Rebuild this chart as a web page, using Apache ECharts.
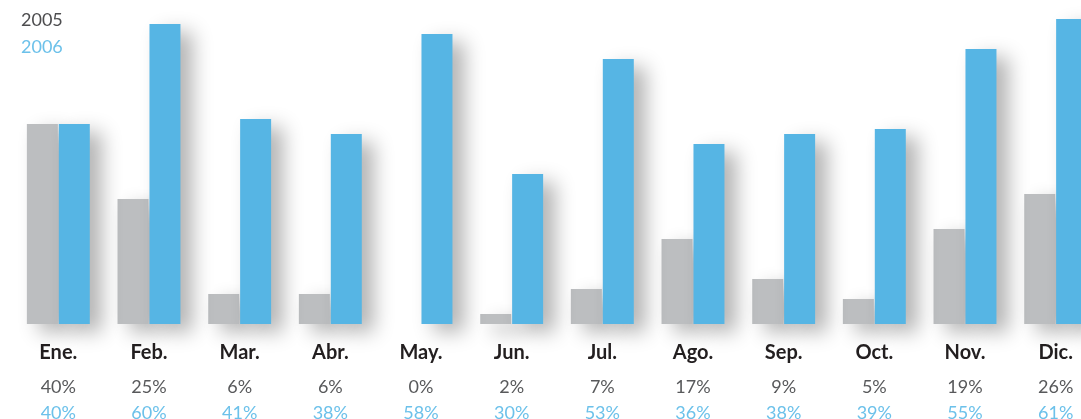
<!DOCTYPE html>
<html>
<head>
<meta charset="utf-8">
<script src="https://cdn.jsdelivr.net/npm/echarts@6/dist/echarts.min.js"></script>
<style>
  html, body { margin: 0; padding: 0; background: #fff; }
  #chart { width: 1081px; height: 419px; }
</style>
</head>
<body>
<div id="chart"></div>
<script>
// datos
var months = ['Ene.', 'Feb.', 'Mar.', 'Abr.', 'May.', 'Jun.', 'Jul.', 'Ago.', 'Sep.', 'Oct.', 'Nov.', 'Dic.'];
var values2005 = [40, 25, 6, 6, 0, 2, 7, 17, 9, 5, 19, 26];
var values2006 = [40, 60, 41, 38, 58, 30, 53, 36, 38, 39, 55, 61];

var FONT = 'Lato, "Open Sans", sans-serif';
var GRAY = '#bcbec0';
var BLUE = '#56b5e4';

var chart = echarts.init(document.getElementById('chart'));

var shadow = {
  shadowBlur: 20,
  shadowOffsetX: 12,
  shadowOffsetY: 8,
  shadowColor: 'rgba(0,0,0,0.3)'
};

chart.setOption({
  animation: false,
  legend: {
    orient: 'vertical',
    left: 16,
    top: 11,
    padding: 0,
    icon: 'none',
    itemWidth: 0,
    itemHeight: 14,
    itemGap: 9,
    selectedMode: false,
    textStyle: { fontFamily: FONT, fontSize: 18, padding: 0 },
    data: [
      { name: '2005', textStyle: { color: '#4d4d4f' } },
      { name: '2006', textStyle: { color: '#6cc1ea' } }
    ]
  },
  grid: { left: 13, width: 1088, top: 4, bottom: 95, outerBoundsMode: 'none', containLabel: false },
  xAxis: {
    type: 'category',
    data: months,
    axisLine: { show: false },
    axisTick: { show: false },
    axisLabel: {
      interval: 0,
      margin: 8,
      hideOverlap: false,
      formatter: function (v, i) {
        return '{m|' + v + '}\n{a|' + values2005[i] + '%}\n{b|' + values2006[i] + '%}';
      },
      rich: {
        m: { fontFamily: FONT, fontWeight: 'bold', fontSize: 20, color: '#231f20', lineHeight: 42 },
        a: { fontFamily: FONT, fontSize: 18, color: '#58595b', lineHeight: 26 },
        b: { fontFamily: FONT, fontSize: 18, color: '#6cc1ea', lineHeight: 26 }
      }
    }
  },
  yAxis: {
    type: 'value',
    min: 0,
    max: 64,
    show: false,
    splitLine: { show: false }
  },
  series: [
    {
      name: '2005',
      type: 'bar',
      data: values2005,
      barWidth: 31,
      barGap: '3%',
      clip: false,
      itemStyle: Object.assign({ color: GRAY }, shadow)
    },
    {
      name: '2006',
      type: 'bar',
      data: values2006,
      barWidth: 31,
      clip: false,
      itemStyle: Object.assign({ color: BLUE }, shadow)
    }
  ]
});
</script>
</body>
</html>
